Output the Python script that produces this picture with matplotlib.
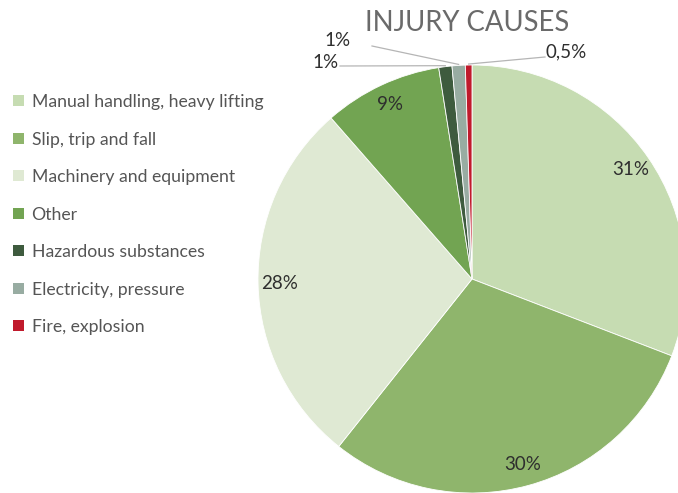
import numpy as np
import matplotlib
matplotlib.use("Agg")
import matplotlib.pyplot as plt

plt.rcParams['font.family'] = ['Lato', 'DejaVu Sans']

causes = ["Manual handling, heavy lifting", "Slip, trip and fall",
          "Machinery and equipment", "Other", "Hazardous substances",
          "Electricity, pressure", "Fire, explosion"]
shares = [31, 30, 28, 9, 1, 1, 0.5]
share_labels = ["31%", "30%", "28%", "9%", "1%", "1%", "0,5%"]
colors = ["#c6dcb2", "#8fb56c", "#dfe9d3", "#72a452", "#3e5b3e", "#98aca2", "#c01a2c"]

W, H = 678, 493
fig = plt.figure(figsize=(W / 100, H / 100), dpi=100)
ax = fig.add_axes([0, 0, 1, 1])

cx, cy, R = 472, H - 279, 214
wedges, _ = ax.pie(shares, colors=colors, startangle=90, counterclock=False,
                   center=(cx, cy), radius=R,
                   wedgeprops=dict(edgecolor="white", linewidth=0.6))
ax.set_xlim(0, W)
ax.set_ylim(0, H)
ax.set_aspect("equal")
ax.axis("off")

# inside labels for the large slices
for w, lab in zip(wedges[:4], share_labels[:4]):
    mid = np.deg2rad((w.theta1 + w.theta2) / 2)
    r = 0.9 * R
    ax.text(cx + r * np.cos(mid), cy + r * np.sin(mid), lab,
            ha="center", va="center", fontsize=13.5, color="#2e2e2e")

# outside labels with leader lines for the thin slices
text_pos = [(325, H - 62), (337, H - 40), (566, H - 52)]
line_end = [(340, H - 66), (372, H - 46), (545, H - 57)]
for w, lab, tp, le in zip(wedges[4:], share_labels[4:], text_pos, line_end):
    mid = np.deg2rad((w.theta1 + w.theta2) / 2)
    ex, ey = cx + R * np.cos(mid), cy + R * np.sin(mid)
    ax.plot([ex, le[0]], [ey + 1, le[1]], color="#b5b5b5", lw=0.9)
    ax.text(tp[0], tp[1], lab, ha="center", va="center",
            fontsize=13.5, color="#2e2e2e")

ax.text(467, H - 23, "INJURY CAUSES", ha="center", va="center",
        fontsize=19.8, color="#6a6a6a")

leg = ax.legend(wedges, causes, loc="upper left",
                bbox_to_anchor=(13 / W, 1 - 94 / H), bbox_transform=fig.transFigure,
                frameon=False, fontsize=12.7, labelcolor="#555555",
                borderpad=0, borderaxespad=0,
                handlelength=0.6, handleheight=0.6, handletextpad=0.45,
                labelspacing=1.22)
for h in leg.legend_handles:
    h.set_edgecolor("none")

fig.savefig("out.png", dpi=100, facecolor="white")
